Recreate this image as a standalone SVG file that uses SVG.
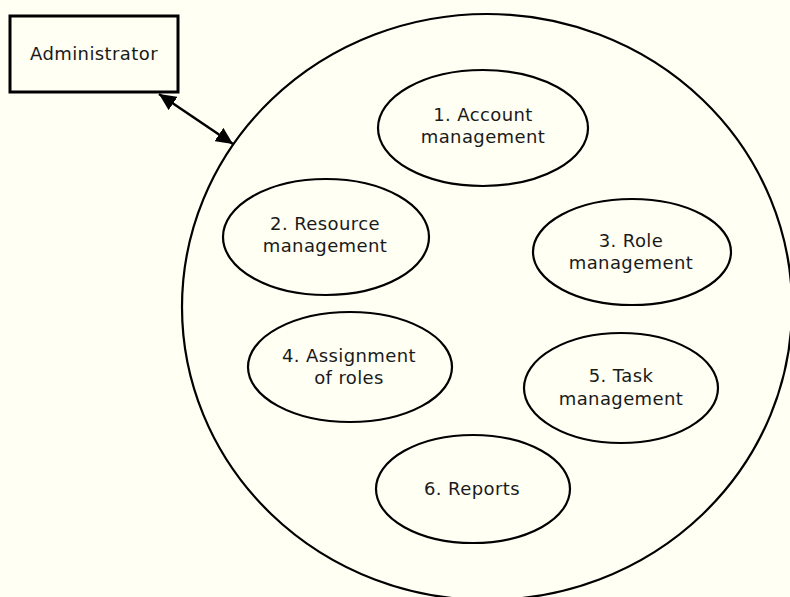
<svg xmlns="http://www.w3.org/2000/svg" width="790" height="597" viewBox="0 0 790 597">
  <defs>
    <style>
      .shape { fill: none; stroke: #000; stroke-width: 2.2; }
      .box { fill: none; stroke: #000; stroke-width: 3; }
      .lbl { font-family: "DejaVu Sans", "Liberation Sans", sans-serif; font-size: 18px; fill: #1a1a1a; text-anchor: middle; letter-spacing: 0.4px; }
      .conn { stroke: #000; stroke-width: 2.5; fill: none; }
    </style>
    <marker id="ah" markerUnits="userSpaceOnUse" markerWidth="18" markerHeight="16" refX="17" refY="8" orient="auto-start-reverse">
      <path d="M0,0 L17,8 L0,16 z" fill="#000"/>
    </marker>
  </defs>
  <rect x="0" y="0" width="790" height="597" fill="#fffff3"/>

  <g id="system">
    <ellipse class="shape" cx="487" cy="307" rx="305" ry="293"/>
  </g>

  <g id="administrator">
    <rect class="box" x="10" y="16" width="168" height="76"/>
    <text class="lbl" x="94" y="60">Administrator</text>
  </g>

  <g id="connectors">
    <line class="conn" x1="159" y1="94" x2="233" y2="144" marker-start="url(#ah)" marker-end="url(#ah)"/>
  </g>

  <g id="n1">
    <ellipse class="shape" cx="483" cy="128" rx="105" ry="58"/>
    <text class="lbl" x="483" y="121">1. Account</text>
    <text class="lbl" x="483" y="143">management</text>
  </g>

  <g id="n2">
    <ellipse class="shape" cx="326" cy="237" rx="103" ry="58"/>
    <text class="lbl" x="325" y="230">2. Resource</text>
    <text class="lbl" x="325" y="252">management</text>
  </g>

  <g id="n3">
    <ellipse class="shape" cx="632" cy="252" rx="99" ry="53"/>
    <text class="lbl" x="631" y="247">3. Role</text>
    <text class="lbl" x="631" y="269">management</text>
  </g>

  <g id="n4">
    <ellipse class="shape" cx="350" cy="367" rx="102" ry="55"/>
    <text class="lbl" x="349" y="362">4. Assignment</text>
    <text class="lbl" x="349" y="384">of roles</text>
  </g>

  <g id="n5">
    <ellipse class="shape" cx="621" cy="388" rx="97" ry="55"/>
    <text class="lbl" x="621" y="382">5. Task</text>
    <text class="lbl" x="621" y="405">management</text>
  </g>

  <g id="n6">
    <ellipse class="shape" cx="473" cy="489" rx="97" ry="54"/>
    <text class="lbl" x="472" y="495">6. Reports</text>
  </g>
</svg>
